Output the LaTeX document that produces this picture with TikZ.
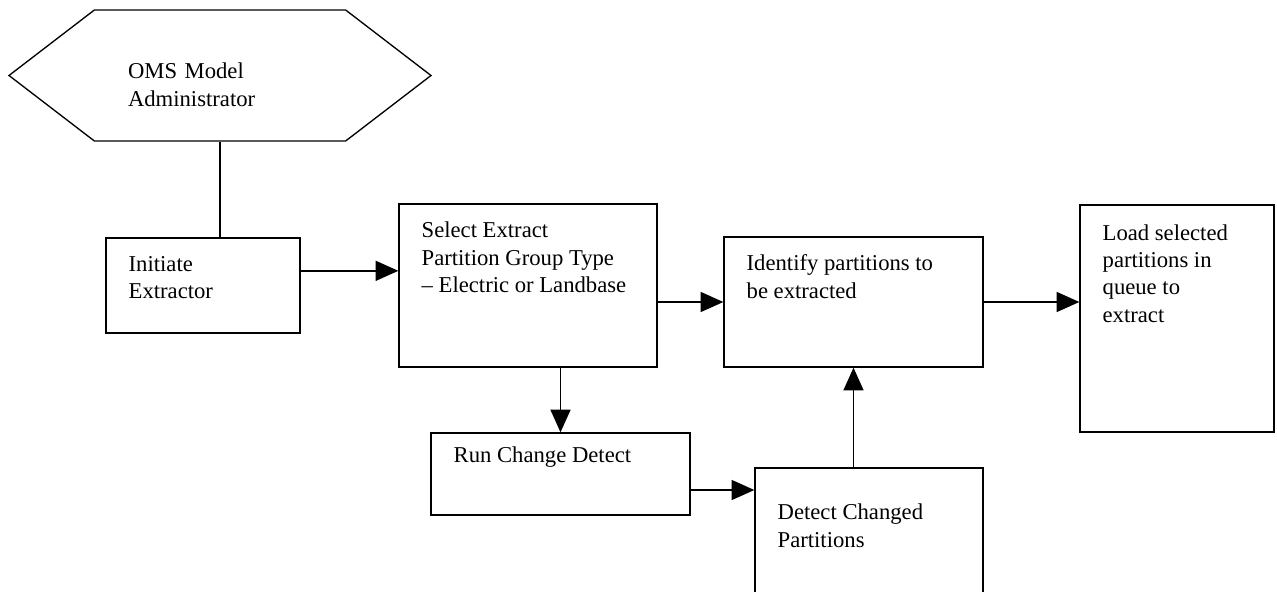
\documentclass[tikz,border=0pt]{standalone}
\usepackage{fontspec}
\setmainfont{Liberation Serif}
\usetikzlibrary{arrows.meta,shapes.symbols}
\begin{document}
\begin{tikzpicture}[x=0.75pt, y=-0.75pt, line width=1pt,
  box/.style={shape=rectangle, draw=black, inner sep=0pt},
  lbl/.style={align=left, inner sep=0pt, font=\fontsize{17}{20.5}\selectfont},
  txt/.style={lbl, anchor=north west, xshift=17pt},
  flow/.style={-{Triangle[length=17pt, width=15pt]}}]
\clip (0,0) rectangle (1277,592);
\node[shape=signal, signal to=west and east, signal pointer angle=75, draw=black, inner sep=0pt, minimum width=316.5pt, minimum height=98.25pt, label={[lbl, anchor=center, yshift=-7pt, text width=138pt]center:{OMS Model\\Administrator}}](admin) at (220,75.5) {};
\node[box, minimum width=145.5pt, minimum height=71.25pt, label={[txt, yshift=-13.5pt]north west:{Initiate\\Extractor}}](initiate) at (203,285.5) {};
\node[box, minimum width=193.5pt, minimum height=122.25pt, label={[txt, yshift=-13.5pt]north west:{Select Extract\\Partition Group Type\\-- Electric or Landbase}}](select) at (528,285.5) {};
\node[box, minimum width=194.25pt, minimum height=97.5pt, label={[txt, yshift=-13.5pt]north west:{Identify partitions to\\be extracted}}](identify) at (853.5,302) {};
\node[box, minimum width=145.5pt, minimum height=170.25pt, label={[txt, yshift=-14.5pt]north west:{Load selected\\partitions in\\queue to\\extract}}](load) at (1177,318.5) {};
\node[box, minimum width=194.25pt, minimum height=61.5pt, label={[txt, yshift=-10pt]north west:{Run Change Detect}}](run) at (560.5,474) {};
\node[box, minimum width=171pt, minimum height=129pt, label={[txt, yshift=-27pt]north west:{Detect Changed\\Partitions}}](detect) at (869,554) {};
\draw (admin.south) -- (admin.south |- initiate.north);
\draw[flow] ([yshift=11pt]initiate.east) -- ([yshift=11pt]initiate.east -| select.west);
\draw[flow] (select.east |- identify.west) -- (identify.west);
\draw[flow] (identify.east) -- (identify.east -| load.west);
\draw[flow] (select.south -| run.north) -- (run.north);
\draw[flow] ([yshift=-12pt]run.east) -- ([yshift=-12pt]run.east -| detect.west);
\draw[flow] (detect.north -| identify.south) -- (identify.south);
\end{tikzpicture}
\end{document}
